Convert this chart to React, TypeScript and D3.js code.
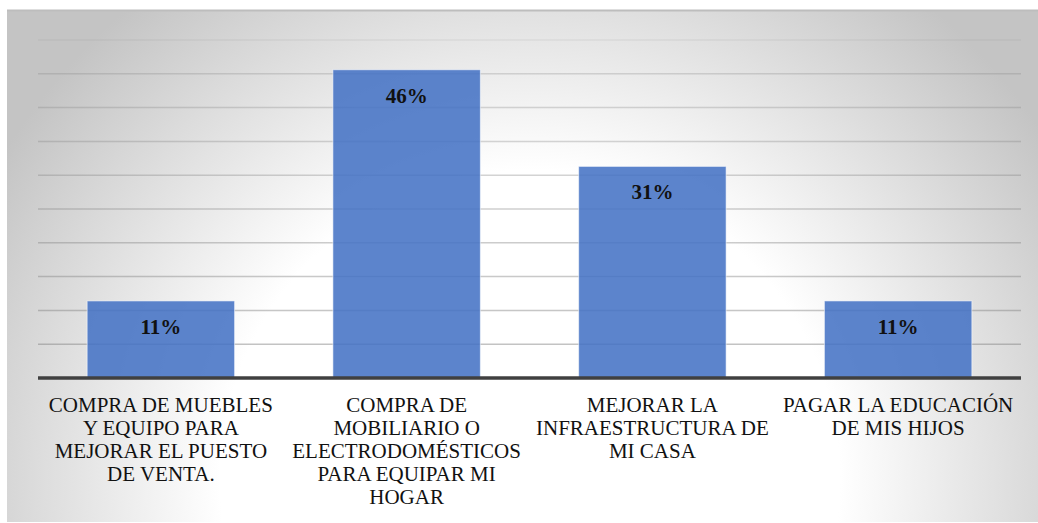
import React from 'react';
import * as d3 from 'd3';

// categories (wrapped the way the reference wraps them)
const categoryLines: string[][] = [
  ['COMPRA DE MUEBLES', 'Y EQUIPO PARA', 'MEJORAR EL PUESTO', 'DE VENTA.'],
  ['COMPRA DE', 'MOBILIARIO O', 'ELECTRODOMÉSTICOS', 'PARA EQUIPAR MI', 'HOGAR'],
  ['MEJORAR LA', 'INFRAESTRUCTURA DE', 'MI CASA'],
  ['PAGAR LA EDUCACIÓN', 'DE MIS HIJOS'],
];
const shares: number[] = [0.114, 0.456, 0.313, 0.114];
const yMax = 0.5;
const yStep = 0.05;

const W = 1038;
const H = 523;
const margin = {top: 40, right: 17, bottom: 145, left: 38};
const serif = "'Liberation Serif', 'Times New Roman', Times, serif";

export default function App() {
  const ids = categoryLines.map((_, i) => String(i));

  const x = d3.scaleBand<string>()
    .domain(ids)
    .range([margin.left, W - margin.right])
    .paddingInner(0.4)
    .paddingOuter(0.2);

  const y = d3.scaleLinear()
    .domain([0, yMax])
    .range([H - margin.bottom, margin.top]);

  const gridTicks = d3.range(1, Math.round(yMax / yStep) + 1).map(k => k * yStep);
  const fmt = d3.format('.0%');
  const base = y(0);
  const cx = (i: number) => (x(String(i)) as number) + x.bandwidth() / 2;

  return (
    <svg width={W} height={H} style={{position: 'absolute', left: 0, top: 0}}>
      <defs>
        <radialGradient id="bg" gradientUnits="userSpaceOnUse" cx={530} cy={480} r={620}>
          <stop offset="0" stopColor="#ffffff" />
          <stop offset="0.5" stopColor="#ffffff" />
          <stop offset="1" stopColor="#c4c4c4" />
        </radialGradient>
      </defs>
      <rect x={7} y={10} width={W - 7} height={H - 11} fill="url(#bg)" />
      <line x1={7} x2={W} y1={10.5} y2={10.5} stroke="#bdbdbd" strokeWidth={2} />

      {gridTicks.map((t, i) => (
        <line key={i} x1={margin.left} x2={W - margin.right}
          y1={y(t)} y2={y(t)}
          stroke="#808080"
          strokeOpacity={t === yMax ? 0.12 : 0.25 + 0.25 * (1 - t / yMax)}
          strokeWidth={1.5} />
      ))}

      {shares.map((v, i) => (
        <rect key={i} x={x(String(i))} y={y(v)} width={x.bandwidth()} height={base - y(v)}
          fill="#4472C4" fillOpacity={0.87} stroke="#ffffff" strokeOpacity={0.55} strokeWidth={1} />
      ))}

      {shares.map((v, i) => (
        <text key={i} x={cx(i)} y={y(v) + 33}
          textAnchor="middle" style={{fontFamily: serif, fontSize: 21, fontWeight: 'bold'}} fill="#111">
          {fmt(v)}
        </text>
      ))}

      <line x1={margin.left} x2={W - margin.right} y1={base} y2={base}
        stroke="#404040" strokeWidth={3.5} />

      {categoryLines.map((lines, i) => (
        <text key={i} x={cx(i)} y={base + 34}
          textAnchor="middle" style={{fontFamily: serif, fontSize: 21}} fill="#111">
          {lines.map((ln, j) => (
            <tspan key={j} x={cx(i)} dy={j === 0 ? 0 : 23}>{ln}</tspan>
          ))}
        </text>
      ))}
    </svg>
  );
}
